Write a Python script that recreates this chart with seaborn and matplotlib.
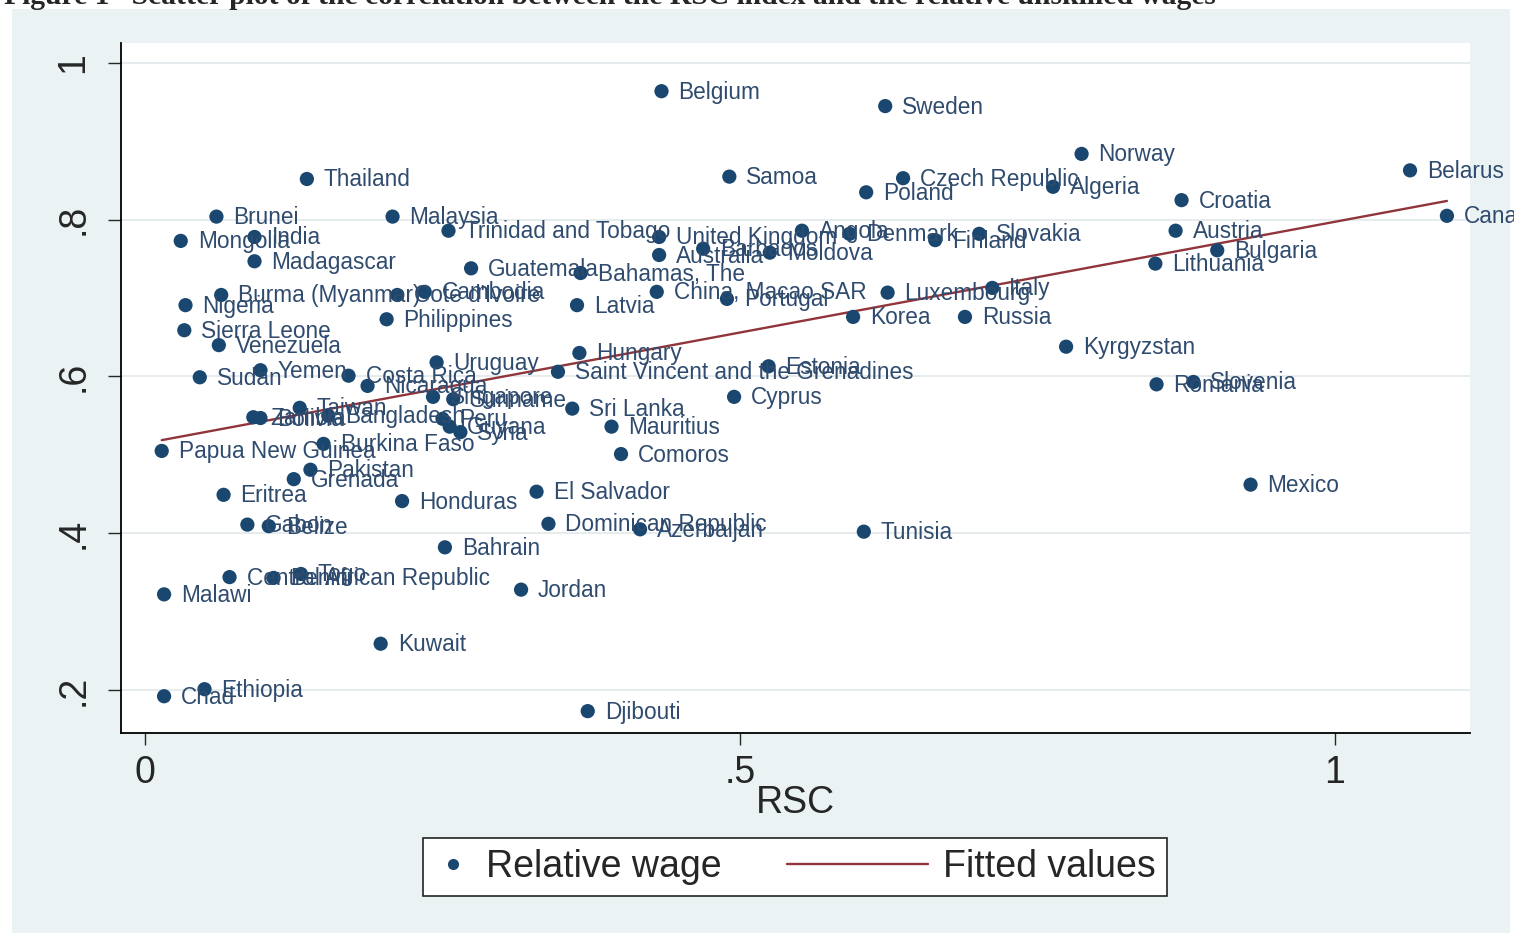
import numpy as np
import pandas as pd
import matplotlib
matplotlib.use('Agg')
import matplotlib.pyplot as plt
import seaborn as sns
from matplotlib.lines import Line2D
from matplotlib.patches import Rectangle
from matplotlib.legend_handler import HandlerLine2D

# Country labels, RSC index and relative unskilled wage
countries = [
    'Belgium', 'Sweden', 'Norway', 'Belarus', 'Thailand', 'Samoa', 'Czech Republic', 'Poland',
    'Algeria', 'Croatia', 'Brunei', 'Malaysia', 'Canada', 'Mongolia', 'India',
    'Trinidad and Tobago', 'United Kingdom', 'Angola', 'Denmark', 'Finland', 'Slovakia',
    'Austria', 'Australia', 'Barbados', 'Moldova', 'Bulgaria', 'Madagascar', 'Guatemala',
    'Bahamas, The', 'Lithuania', 'Burma (Myanmar)', "Cote d'Ivoire", 'Cambodia',
    'China, Macao SAR', 'Luxembourg', 'Nigeria', 'Latvia', 'Portugal', 'Italy', 'Korea',
    'Russia', 'Philippines', 'Sierra Leone', 'Venezuela', 'Kyrgyzstan', 'Hungary', 'Uruguay',
    'Estonia', 'Yemen', 'Saint Vincent and the Grenadines', 'Sudan', 'Costa Rica', 'Nicaragua',
    'Romania', 'Slovenia', 'Singapore', 'Suriname', 'Cyprus', 'Sri Lanka', 'Taiwan', 'Zambia',
    'Bolivia', 'Bangladesh', 'Peru', 'Guyana', 'Syria', 'Mauritius', 'Papua New Guinea',
    'Burkina Faso', 'Comoros', 'Pakistan', 'Grenada', 'Mexico', 'Eritrea', 'El Salvador',
    'Honduras', 'Gabon', 'Belize', 'Dominican Republic', 'Azerbaijan', 'Tunisia', 'Bahrain',
    'Central African Republic', 'Benin', 'Togo', 'Malawi', 'Jordan', 'Kuwait', 'Chad',
    'Ethiopia', 'Djibouti',
]
rsc = [
    0.434, 0.622, 0.787, 1.063, 0.136, 0.491, 0.637, 0.606,
    0.763, 0.871, 0.060, 0.208, 1.094, 0.030, 0.092,
    0.255, 0.432, 0.552, 0.592, 0.664, 0.701,
    0.866, 0.432, 0.469, 0.525, 0.901, 0.092, 0.274,
    0.366, 0.849, 0.064, 0.212, 0.235,
    0.430, 0.624, 0.034, 0.363, 0.489, 0.712, 0.595,
    0.689, 0.203, 0.033, 0.062, 0.774, 0.365, 0.245,
    0.524, 0.097, 0.347, 0.046, 0.171, 0.187,
    0.850, 0.881, 0.242, 0.259, 0.495, 0.359, 0.130, 0.091,
    0.097, 0.154, 0.250, 0.256, 0.265, 0.392, 0.014,
    0.150, 0.400, 0.139, 0.125, 0.929, 0.066, 0.329,
    0.216, 0.086, 0.104, 0.339, 0.416, 0.604, 0.252,
    0.071, 0.108, 0.131, 0.016, 0.316, 0.198, 0.016,
    0.050, 0.372,
]
wage = [
    0.964, 0.945, 0.884, 0.863, 0.852, 0.855, 0.853, 0.835,
    0.842, 0.825, 0.804, 0.804, 0.805, 0.773, 0.778,
    0.786, 0.778, 0.786, 0.782, 0.774, 0.782,
    0.786, 0.755, 0.763, 0.758, 0.761, 0.747, 0.738,
    0.732, 0.744, 0.704, 0.704, 0.708,
    0.708, 0.707, 0.691, 0.691, 0.699, 0.713, 0.676,
    0.676, 0.673, 0.659, 0.640, 0.638, 0.630, 0.618,
    0.613, 0.608, 0.606, 0.599, 0.601, 0.588,
    0.590, 0.593, 0.574, 0.571, 0.574, 0.559, 0.560, 0.548,
    0.547, 0.550, 0.546, 0.536, 0.529, 0.536, 0.505,
    0.514, 0.501, 0.481, 0.469, 0.462, 0.449, 0.453,
    0.441, 0.411, 0.409, 0.412, 0.405, 0.402, 0.382,
    0.344, 0.343, 0.348, 0.322, 0.328, 0.259, 0.192,
    0.201, 0.173,
]
yticks = [0.2, 0.4, 0.6, 0.8, 1.0]
ytick_labels = ['.2', '.4', '.6', '.8', '1']
xticks = [0, 0.5, 1]
xtick_labels = ['0', '.5', '1']

df = pd.DataFrame({'country': countries, 'rsc': rsc, 'wage': wage})

navy = '#1a476f'
maroon = '#90353b'
label_col = '#2f4b6e'
big = 27

sns.set_style('white')
plt.rcParams['font.family'] = ['Liberation Sans', 'DejaVu Sans']

W, H = 1514, 935
fig = plt.figure(figsize=(W / 100, H / 100), dpi=100, facecolor='white')
fig.patches.append(Rectangle((12 / W, 2 / H), 1498 / W, 924 / H, transform=fig.transFigure,
                             facecolor='#eaf2f3', edgecolor='none', zorder=-10))
fig.text(4 / W, 1 - 4 / H,
         'Figure 1   Scatter plot of the correlation between the RSC index and the relative unskilled wages',
         family='Liberation Serif', fontweight='bold', fontsize=21.3, va='baseline', ha='left')

ax = fig.add_axes([121 / W, (H - 733) / H, (1470 - 121) / W, (733 - 43) / H])
ax.set_facecolor('white')

sns.regplot(data=df, x='rsc', y='wage', ax=ax, scatter=False, ci=None, truncate=True,
            line_kws=dict(color=maroon, lw=1.7, zorder=2))
sns.scatterplot(data=df, x='rsc', y='wage', ax=ax, color=navy, s=105, edgecolor='none',
                linewidth=0, legend=False, zorder=3)

for _, r in df.iterrows():
    ax.annotate(r['country'], (r['rsc'], r['wage']), xytext=(17, -1), textcoords='offset pixels',
                ha='left', va='center', fontsize=16.3, color=label_col, annotation_clip=False, zorder=4)

ax.set_xlim(-0.0202, 1.1134)
ax.set_ylim(0.1451, 1.0255)
ax.set_yticks(yticks)
ax.set_yticklabels(ytick_labels)
ax.set_xticks(xticks)
ax.set_xticklabels(xtick_labels)
for lab in ax.get_yticklabels():
    lab.set_rotation(90)
    lab.set_va('center')

ax.grid(axis='y', color='#e4eaed', lw=1.3)
ax.grid(axis='x', visible=False)
ax.set_axisbelow(True)
for s in ['top', 'right']:
    ax.spines[s].set_visible(False)
for s in ['left', 'bottom']:
    ax.spines[s].set_color('black')
    ax.spines[s].set_linewidth(1.3)

ax.tick_params(axis='y', left=True, direction='out', length=9.4, width=1, pad=12, labelsize=big)
ax.tick_params(axis='x', bottom=True, direction='out', length=8.6, width=1, pad=7, labelsize=big)
ax.set_xlabel('RSC', fontsize=big, labelpad=-4)
ax.set_ylabel('')


class LongLine(HandlerLine2D):
    # longer line sample than the marker handle
    def create_artists(self, legend, orig_handle, xdescent, ydescent, width, height, fontsize, trans):
        arts = super().create_artists(legend, orig_handle, xdescent, ydescent, width, height, fontsize, trans)
        for a in arts:
            a.set_xdata(np.linspace(width - 101.5, width, 3))
        return arts


dot_h = Line2D([], [], marker='o', linestyle='none', color=navy, markersize=7)
line_h = Line2D([], [], color=maroon, lw=1.7)
leg = fig.legend(handles=[dot_h, line_h], labels=['Relative wage', 'Fitted values'],
                 loc='center', bbox_to_anchor=(0.525, 0.0727), ncol=2, frameon=True,
                 fancybox=False, edgecolor='#222222', facecolor='white', framealpha=1,
                 fontsize=big, handlelength=1.0, handletextpad=0.4, columnspacing=4.49,
                 borderpad=0.3, numpoints=1, handler_map={line_h: LongLine()})
leg.get_frame().set_linewidth(1.2)

fig.savefig('out.png', dpi=100, facecolor=fig.get_facecolor())
